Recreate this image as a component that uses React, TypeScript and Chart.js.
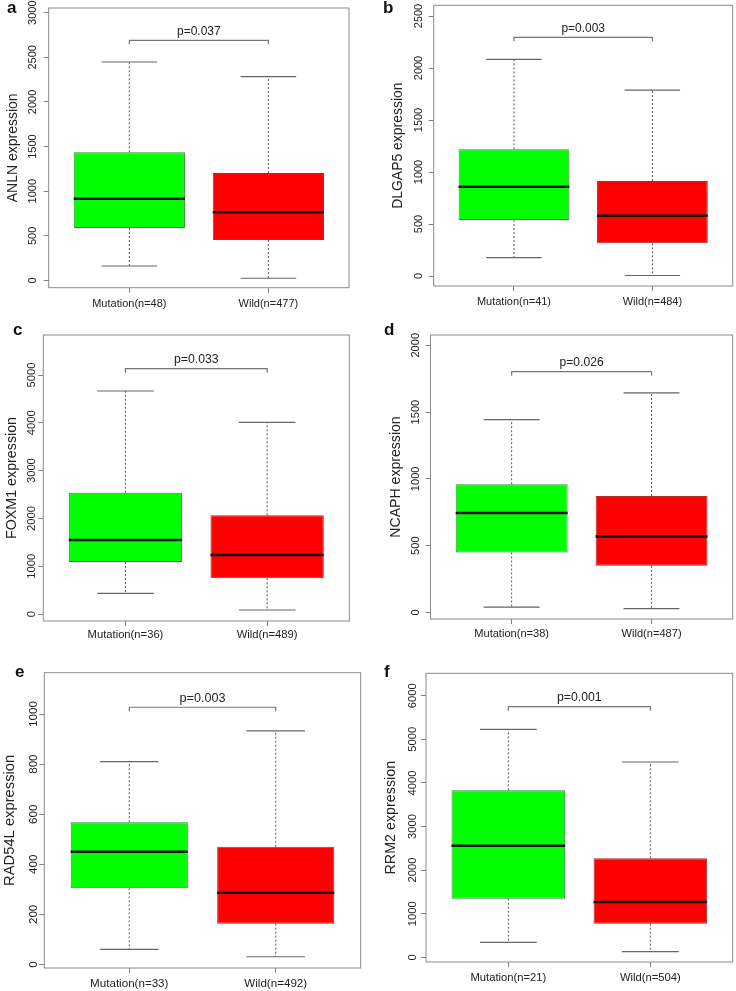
import React, { useEffect, useRef } from 'react';
import { Chart, registerables } from 'chart.js';

Chart.register(...registerables);

const FONT = '"Liberation Sans", Arial, Helvetica, sans-serif';

// ---------- data ----------
const PANEL_LETTERS = ['a', 'b', 'c', 'd', 'e', 'f'];
const GENES = ['ANLN', 'DLGAP5', 'FOXM1', 'NCAPH', 'RAD54L', 'RRM2'];
const P_VALUES = ['p=0.037', 'p=0.003', 'p=0.033', 'p=0.026', 'p=0.003', 'p=0.001'];
const N_MUTATION = [48, 41, 36, 38, 33, 21];
const N_WILD = [477, 484, 489, 487, 492, 504];

const MUT_LOWER = [162, 176, 433, 40, 60, 344];
const MUT_Q1 = [588, 538, 1088, 449, 304, 1344];
const MUT_MEDIAN = [916, 859, 1548, 744, 450, 2560];
const MUT_Q3 = [1436, 1218, 2538, 960, 568, 3830];
const MUT_UPPER = [2448, 2083, 4665, 1444, 810, 5229];

const WILD_LOWER = [25, 5, 84, 28, 31, 128];
const WILD_Q1 = [454, 314, 747, 349, 163, 771];
const WILD_MEDIAN = [764, 580, 1234, 569, 286, 1268];
const WILD_Q3 = [1204, 913, 2065, 871, 470, 2271];
const WILD_UPPER = [2283, 1788, 4010, 1644, 933, 4479];

const BRACKET_Y = [2691, 2295, 5132, 1803, 1027, 5748];

const Y_TICKS = [
  [0, 500, 1000, 1500, 2000, 2500, 3000],
  [0, 500, 1000, 1500, 2000, 2500],
  [0, 1000, 2000, 3000, 4000, 5000],
  [0, 500, 1000, 1500, 2000],
  [0, 200, 400, 600, 800, 1000],
  [0, 1000, 2000, 3000, 4000, 5000, 6000],
];
const Y_MIN = [-81, -96, -146, -49, -14, -108];
const Y_MAX = [3053, 2603, 5837, 2077, 1165, 6514];

// group positions on the x axis (R boxplot style)
const GROUP_X = [1, 2];
const X_MIN = 0.42;
const X_MAX = 2.58;
const BOX_HALF = 0.4;
const CAP_HALF = 0.2;

// ---------- layout (canvas placement, plot frame, text offsets) ----------
const LAYOUT = [
  { left: 0, top: 0, width: 366, height: 320, fl: 48.7, ft: 8, fr: 349, fb: 287.7, titleX: 13.3, tickOff: 15.4, xLabOff: 16.3, letterX: 7, letterY: 13.3 },
  { left: 366, top: 0, width: 370, height: 320, fl: 67.7, ft: 5.3, fr: 366.7, fb: 286, titleX: 31.7, tickOff: 14.4, xLabOff: 15.7, letterX: 17, letterY: 13.3 },
  { left: 0, top: 320, width: 366, height: 330, fl: 43.3, ft: 15, fr: 349.3, fb: 301, titleX: 11.7, tickOff: 11.6, xLabOff: 14, letterX: 13, letterY: 15 },
  { left: 366, top: 320, width: 370, height: 330, fl: 64.5, ft: 15, fr: 366.7, fb: 299, titleX: 30, tickOff: 15, xLabOff: 15.3, letterX: 18, letterY: 15 },
  { left: 0, top: 650, width: 366, height: 341, fl: 44.3, ft: 22.7, fr: 360.7, fb: 318, titleX: 10, tickOff: 11, xLabOff: 15.3, letterX: 15, letterY: 26.7 },
  { left: 366, top: 650, width: 370, height: 341, fl: 60, ft: 23.3, fr: 366.7, fb: 312, titleX: 25, tickOff: 13.3, xLabOff: 16.3, letterX: 18, letterY: 26.7 },
];

function measure(text: string, font: string): number {
  const c = document.createElement('canvas').getContext('2d');
  if (!c) return text.length * 6;
  c.font = font;
  return c.measureText(text).width;
}

const decorPlugin = {
  id: 'panelDecor',
  afterDraw(chart: any, _args: any, opts: any) {
    const { ctx, chartArea: a, scales } = chart;
    const xs = scales.x;
    const ys = scales.y;
    ctx.save();
    // frame
    ctx.strokeStyle = '#8a8a8a';
    ctx.lineWidth = 1;
    ctx.strokeRect(a.left, a.top, a.right - a.left, a.bottom - a.top);
    // significance bracket
    const x1 = xs.getPixelForValue(GROUP_X[0]);
    const x2 = xs.getPixelForValue(GROUP_X[1]);
    const by = ys.getPixelForValue(opts.bracketY);
    ctx.strokeStyle = '#777';
    ctx.lineWidth = 1.2;
    ctx.beginPath();
    ctx.moveTo(x1, by + 4);
    ctx.lineTo(x1, by);
    ctx.lineTo(x2, by);
    ctx.lineTo(x2, by + 4);
    ctx.stroke();
    ctx.fillStyle = '#222';
    ctx.font = `${12 * opts.fs}px ${FONT}`;
    ctx.textAlign = 'center';
    ctx.textBaseline = 'alphabetic';
    ctx.fillText(opts.pText, (x1 + x2) / 2, by - 5.5);
    // panel letter
    ctx.fillStyle = '#111';
    ctx.font = `bold 17px ${FONT}`;
    ctx.textAlign = 'left';
    ctx.fillText(opts.letter, opts.letterX, opts.letterY);
    ctx.restore();
  },
};

function Panel({ i }: { i: number }) {
  const ref = useRef<HTMLCanvasElement | null>(null);
  const L = LAYOUT[i];

  useEffect(() => {
    if (!ref.current) return;
    const fs = (L.fr - L.fl) / 300;
    const tickSize = 11 * fs;
    const titleSize = 14 * fs;
    const tickFontStr = `${tickSize}px ${FONT}`;
    const widest = Math.max(...Y_TICKS[i].map((v) => measure(String(v), tickFontStr)));
    const xLabels = [`Mutation(n=${N_MUTATION[i]})`, `Wild(n=${N_WILD[i]})`];

    const mut = [MUT_LOWER[i], MUT_Q1[i], MUT_MEDIAN[i], MUT_Q3[i], MUT_UPPER[i]];
    const wild = [WILD_LOWER[i], WILD_Q1[i], WILD_MEDIAN[i], WILD_Q3[i], WILD_UPPER[i]];
    const groups = [mut, wild];

    const whiskers: any[] = [];
    const caps: any[] = [];
    const medians: any[] = [];
    groups.forEach((g, k) => {
      const gx = GROUP_X[k];
      whiskers.push({ x: gx, y: g[3] }, { x: gx, y: g[4] }, { x: gx, y: null });
      whiskers.push({ x: gx, y: g[1] }, { x: gx, y: g[0] }, { x: gx, y: null });
      caps.push({ x: gx - CAP_HALF, y: g[4] }, { x: gx + CAP_HALF, y: g[4] }, { x: gx, y: null });
      caps.push({ x: gx - CAP_HALF, y: g[0] }, { x: gx + CAP_HALF, y: g[0] }, { x: gx, y: null });
      medians.push({ x: gx - BOX_HALF, y: g[2] }, { x: gx + BOX_HALF, y: g[2] }, { x: gx, y: null });
    });

    const chart = new Chart(ref.current, {
      type: 'bar',
      data: {
        datasets: [
          {
            type: 'bar',
            data: groups.map((g, k) => ({ x: GROUP_X[k], y: [g[1], g[3]] })) as any,
            backgroundColor: ['#00ff00', '#ff0000'],
            borderColor: ['#2f8f2f', '#b02a2a'],
            borderWidth: 1,
            borderSkipped: false,
            barPercentage: 2 * BOX_HALF,
            categoryPercentage: 1,
            order: 3,
          } as any,
          {
            type: 'line',
            data: whiskers,
            borderColor: '#555',
            borderWidth: 1,
            borderDash: [2, 2],
            pointRadius: 0,
            spanGaps: false,
            tension: 0,
            order: 4,
          } as any,
          {
            type: 'line',
            data: caps,
            borderColor: '#666',
            borderWidth: 1.2,
            pointRadius: 0,
            spanGaps: false,
            tension: 0,
            order: 2,
          } as any,
          {
            type: 'line',
            data: medians,
            borderColor: '#111',
            borderWidth: 2.4,
            pointRadius: 0,
            spanGaps: false,
            tension: 0,
            order: 1,
          } as any,
        ],
      },
      options: {
        responsive: false,
        animation: false,
        devicePixelRatio: 1,
        events: [],
        layout: {
          padding: { left: 0, top: L.ft, right: L.width - L.fr, bottom: 0 },
        },
        plugins: {
          legend: { display: false },
          tooltip: { enabled: false },
          panelDecor: {
            bracketY: BRACKET_Y[i],
            pText: P_VALUES[i],
            letter: PANEL_LETTERS[i],
            letterX: L.letterX,
            letterY: L.letterY,
            fs,
          },
        } as any,
        scales: {
          x: {
            type: 'linear',
            min: X_MIN,
            max: X_MAX,
            offset: false,
            afterBuildTicks: (s: any) => {
              s.ticks = GROUP_X.map((v) => ({ value: v }));
            },
            afterFit: (s: any) => {
              s.height = L.height - L.fb;
            },
            ticks: {
              callback: (v: any) => xLabels[GROUP_X.indexOf(Math.round(Number(v)))],
              font: { family: FONT, size: tickSize },
              color: '#222',
              maxRotation: 0,
              minRotation: 0,
              autoSkip: false,
              padding: L.xLabOff - 5 - tickSize * 0.6,
            },
            grid: { offset: false, drawOnChartArea: false, drawTicks: true, tickLength: 5, color: '#808080', lineWidth: 1 },
            border: { display: false },
          } as any,
          y: {
            type: 'linear',
            min: Y_MIN[i],
            max: Y_MAX[i],
            afterBuildTicks: (s: any) => {
              s.ticks = Y_TICKS[i].map((v) => ({ value: v }));
            },
            afterFit: (s: any) => {
              s.width = L.fl;
            },
            ticks: {
              font: { family: FONT, size: tickSize },
              color: '#222',
              minRotation: 90,
              maxRotation: 90,
              crossAlign: 'center',
              autoSkip: false,
              padding: L.tickOff - 5 - widest / 2,
              callback: (v: any) => String(v),
            },
            grid: { drawOnChartArea: false, drawTicks: true, tickLength: 5, color: '#808080', lineWidth: 1 },
            border: { display: false },
            title: {
              display: true,
              text: `${GENES[i]} expression`,
              font: { family: FONT, size: titleSize },
              color: '#222',
              padding: { top: L.titleX - titleSize * 0.6, bottom: 0 },
            },
          } as any,
        },
      },
      plugins: [decorPlugin as any],
    });
    return () => chart.destroy();
  }, [i]);

  return (
    <div style={{ position: 'absolute', left: L.left, top: L.top, width: L.width, height: L.height }}>
      <canvas ref={ref} width={L.width} height={L.height} style={{ width: L.width, height: L.height, display: 'block' }} />
    </div>
  );
}

export default function App() {
  return (
    <div style={{ position: 'absolute', left: 0, top: 0, width: 736, height: 991, background: '#ffffff', overflow: 'hidden' }}>
      {PANEL_LETTERS.map((_, i) => (
        <Panel key={i} i={i} />
      ))}
    </div>
  );
}
